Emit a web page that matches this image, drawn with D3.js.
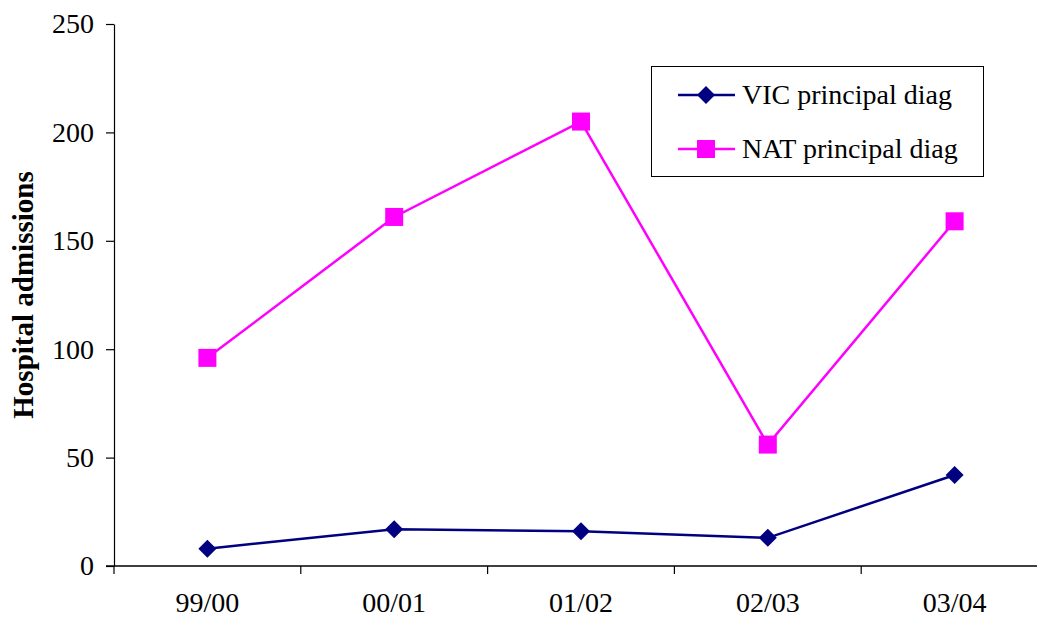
<!DOCTYPE html>
<html>
<head>
<meta charset="utf-8">
<script src="https://cdn.jsdelivr.net/npm/d3@7"></script>
<style>
  html, body { margin: 0; padding: 0; background: #fff; }
  svg { display: block; }
  text { font-family: "Liberation Serif", "Times New Roman", serif; fill: #000; }
</style>
</head>
<body>
<svg id="chart" width="1037" height="618"></svg>
<script>
// Hospital admissions by financial year
const years = ["99/00", "00/01", "01/02", "02/03", "03/04"];
const vicValues = [8, 17, 16, 13, 42];
const natValues = [96, 161, 205, 56, 159];
const yTicks = [0, 50, 100, 150, 200, 250];
const seriesNames = ["VIC principal diag", "NAT principal diag"];

const svg = d3.select("#chart");
const margin = { left: 114, top: 24, right: -11, bottom: 52 };
const W = 1037, H = 618;

const x = d3.scaleBand().domain(years)
  .range([margin.left, W - margin.right]);
const y = d3.scaleLinear().domain([0, 250])
  .range([H - margin.bottom, margin.top]);

// y axis
const yAxis = svg.append("g")
  .attr("transform", `translate(${margin.left},0)`)
  .call(d3.axisLeft(y).tickValues(yTicks).tickSize(8).tickSizeOuter(0).tickPadding(12));
yAxis.select(".domain").attr("stroke", "#000").attr("stroke-width", 1.2);
yAxis.selectAll(".tick line").attr("stroke", "#000").attr("stroke-width", 1.2);
yAxis.selectAll("text").style("font-size", "28px").attr("fill", "#000");

// x axis
const xAxis = svg.append("g")
  .attr("transform", `translate(0,${y(0)})`)
  .call(d3.axisBottom(x).tickSize(0).tickPadding(26));
xAxis.select(".domain").remove();
xAxis.selectAll("text").style("font-size", "28px").attr("fill", "#000");
svg.append("line")
  .attr("x1", margin.left - 8).attr("x2", W)
  .attr("y1", y(0)).attr("y2", y(0))
  .attr("stroke", "#000").attr("stroke-width", 1.5);
// category boundary ticks
const bounds = years.map(d => x(d)).concat([x(years[years.length - 1]) + x.bandwidth()]);
svg.append("g").selectAll("line").data(bounds).join("line")
  .attr("x1", d => d).attr("x2", d => d)
  .attr("y1", y(0)).attr("y2", y(0) + 8)
  .attr("stroke", "#000").attr("stroke-width", 1.2);

// y axis title
svg.append("text")
  .attr("transform", `translate(33,${(y(0) + y(250)) / 2}) rotate(-90)`)
  .attr("text-anchor", "middle")
  .style("font-size", "29px")
  .style("font-weight", "bold")
  .text("Hospital admissions");

const cx = d => x(d) + x.bandwidth() / 2;
const line = d3.line().x(d => cx(d.year)).y(d => y(d.value));

const natData = years.map((yr, i) => ({ year: yr, value: natValues[i] }));
const vicData = years.map((yr, i) => ({ year: yr, value: vicValues[i] }));

const navy = "#000080", magenta = "#FF00FF";

// NAT series: magenta line with square markers
svg.append("path").datum(natData)
  .attr("d", line).attr("fill", "none")
  .attr("stroke", magenta).attr("stroke-width", 2.5);
svg.append("g").selectAll("rect").data(natData).join("rect")
  .attr("x", d => cx(d.year) - 9).attr("y", d => y(d.value) - 9)
  .attr("width", 18).attr("height", 18)
  .attr("fill", magenta);

// VIC series: navy line with diamond markers
svg.append("path").datum(vicData)
  .attr("d", line).attr("fill", "none")
  .attr("stroke", navy).attr("stroke-width", 2.5);
const diamond = s => `M0,${-s}L${s},0L0,${s}L${-s},0Z`;
svg.append("g").selectAll("path").data(vicData).join("path")
  .attr("transform", d => `translate(${cx(d.year)},${y(d.value)})`)
  .attr("d", diamond(9))
  .attr("fill", navy);

// legend
const legend = svg.append("g");
legend.append("rect")
  .attr("x", 651.5).attr("y", 66.5).attr("width", 332).attr("height", 110)
  .attr("fill", "#fff").attr("stroke", "#000").attr("stroke-width", 1);
const items = [
  { name: seriesNames[0], color: navy, shape: "diamond", yy: 95 },
  { name: seriesNames[1], color: magenta, shape: "square", yy: 149 }
];
items.forEach(it => {
  legend.append("line")
    .attr("x1", 678).attr("x2", 735).attr("y1", it.yy).attr("y2", it.yy)
    .attr("stroke", it.color).attr("stroke-width", 2.5);
  if (it.shape === "diamond") {
    legend.append("path").attr("transform", `translate(706,${it.yy})`)
      .attr("d", diamond(9)).attr("fill", it.color);
  } else {
    legend.append("rect").attr("x", 697).attr("y", it.yy - 9)
      .attr("width", 18).attr("height", 18).attr("fill", it.color);
  }
  legend.append("text")
    .attr("x", 742).attr("y", it.yy + 9)
    .style("font-size", "28px")
    .text(it.name);
});
</script>
</body>
</html>
